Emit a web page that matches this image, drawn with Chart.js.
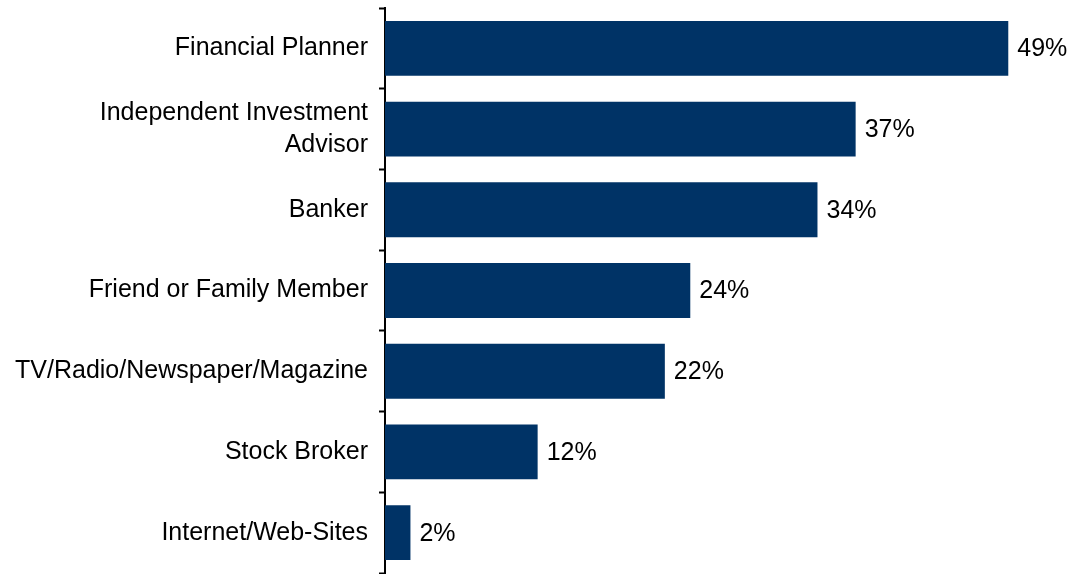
<!DOCTYPE html>
<html>
<head>
<meta charset="utf-8">
<script src="https://cdn.jsdelivr.net/npm/chart.js@4/dist/chart.umd.min.js"></script>
<style>
  html, body { margin: 0; padding: 0; background: #fff; }
  #wrap { width: 1076px; height: 574px; position: relative; }
</style>
</head>
<body>
<div id="wrap"><canvas id="myChart"></canvas></div>
<script>
// categories and shares (%)
let sources = [
    'Financial Planner',
    ['Independent Investment', 'Advisor'],
    'Banker',
    'Friend or Family Member',
    'TV/Radio/Newspaper/Magazine',
    'Stock Broker',
    'Internet/Web-Sites'
];
let shares = [49, 37, 34, 24, 22, 12, 2];

let fontFamily = '"Liberation Sans", Arial, Helvetica, sans-serif';
let fontSize = 25;

// writes "NN%" just past the end of each bar
let valueLabels = {
    id: 'valueLabels',
    afterDatasetsDraw(chart) {
        let ctx = chart.ctx;
        let meta = chart.getDatasetMeta(0);
        ctx.save();
        ctx.font = fontSize + 'px ' + fontFamily;
        ctx.fillStyle = '#000';
        ctx.textAlign = 'left';
        ctx.textBaseline = 'middle';
        meta.data.forEach((bar, i) => {
            ctx.fillText(shares[i] + '%', bar.x + 9, bar.y + 1);
        });
        ctx.restore();
    }
};

let myChart = document.getElementById('myChart').getContext('2d');

let sourcesChart = new Chart(myChart, {
    type: 'bar',
    data: {
        labels: sources,
        datasets: [{
            data: shares,
            backgroundColor: '#003366',
            barPercentage: 0.68,
            categoryPercentage: 1
        }]
    },
    options: {
        indexAxis: 'y',
        responsive: true,
        maintainAspectRatio: false,
        animation: false,
        layout: {
            padding: { top: 8, bottom: 1, left: 0, right: 55 }
        },
        plugins: {
            legend: { display: false },
            tooltip: { enabled: false }
        },
        scales: {
            x: {
                display: false,
                min: 0,
                max: 50
            },
            y: {
                afterFit(scale) {
                    scale.width = 385;
                    scale.paddingTop = 0;
                    scale.paddingBottom = 0;
                },
                border: { display: true, color: '#000', width: 2 },
                grid: {
                    offset: true,
                    drawOnChartArea: false,
                    drawTicks: true,
                    tickLength: 6,
                    tickWidth: 2,
                    tickColor: '#000'
                },
                ticks: {
                    color: '#000',
                    padding: 11,
                    font: { family: fontFamily, size: fontSize, lineHeight: 1.25 }
                }
            }
        }
    },
    plugins: [valueLabels]
});
</script>
</body>
</html>
